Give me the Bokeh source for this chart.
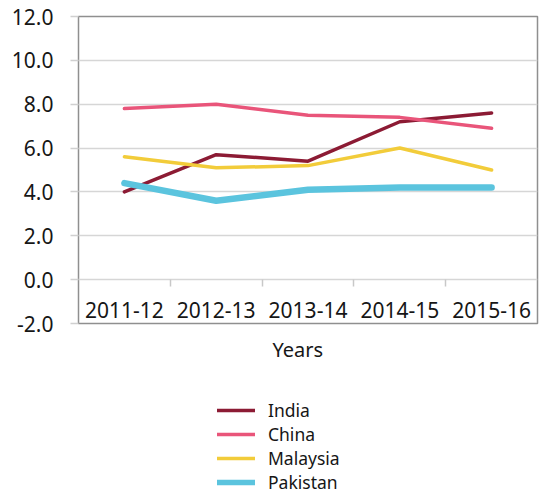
from bokeh.plotting import figure
from bokeh.layouts import column
from bokeh.models import (Range1d, LinearAxis, FixedTicker, PrintfTickFormatter,
                          Legend, LegendItem, Title, Grid)
from bokeh.embed import file_html
from bokeh.resources import INLINE

# ---- data ----
years = ["2011-12", "2012-13", "2013-14", "2014-15", "2015-16"]
india = [4.0, 5.7, 5.4, 7.2, 7.6]
china = [7.8, 8.0, 7.5, 7.4, 6.9]
malaysia = [5.6, 5.1, 5.2, 6.0, 5.0]
pakistan = [4.4, 3.6, 4.1, 4.2, 4.2]
y_ticks = [-2, 0, 2, 4, 6, 8, 10, 12]
series_names = ["India", "China", "Malaysia", "Pakistan"]

FONT = "Noto Sans"
TXT = "#161616"
x = list(range(len(years)))
colors = ["#8c1b34", "#e9557a", "#f2cc3a", "#5bc4de"]
widths = [3.5, 3.5, 3.5, 6.5]
values = [india, china, malaysia, pakistan]

# ---------------- main chart ----------------
p = figure(width=540, height=398, output_backend="svg", toolbar_location=None,
           x_range=Range1d(-0.5, len(years) - 0.5), y_range=Range1d(-2, 12),
           x_axis_location=None, y_axis_location=None,
           min_border_left=78, min_border_right=3, min_border_top=16,
           min_border_bottom=75)
p.background_fill_color = "white"
p.border_fill_color = "white"
p.outline_line_color = "#8f8f8f"
p.outline_line_width = 1.5
for g in p.grid:
    g.visible = False

p.add_layout(Grid(dimension=1, ticker=FixedTicker(ticks=y_ticks),
                  grid_line_color="#d6d6d6", grid_line_width=1.5))

yaxis = LinearAxis(ticker=FixedTicker(ticks=y_ticks),
                   formatter=PrintfTickFormatter(format="%.1f"),
                   axis_line_color=None, major_tick_out=8, major_tick_in=0,
                   major_tick_line_color="#d0d0d0", major_tick_line_width=1.5,
                   minor_tick_line_color=None, major_label_standoff=17,
                   major_label_text_font=FONT, major_label_text_font_size="21px",
                   major_label_text_color=TXT)
p.add_layout(yaxis, "left")

# category boundary ticks at y = 0
xtick_axis = LinearAxis(fixed_location=0,
                        ticker=FixedTicker(ticks=[i + 0.5 for i in range(len(years) - 1)]),
                        axis_line_color=None, major_tick_out=7, major_tick_in=0,
                        major_tick_line_color="#c8c8c8", major_tick_line_width=1.5,
                        minor_tick_line_color=None, major_label_text_alpha=0)
p.add_layout(xtick_axis, "below")

# category labels
xlab_axis = LinearAxis(fixed_location=0, ticker=FixedTicker(ticks=x),
                       major_label_overrides={i: yr for i, yr in enumerate(years)},
                       axis_line_color=None, major_tick_line_color=None,
                       minor_tick_line_color=None, major_tick_out=0, major_tick_in=0,
                       major_label_standoff=22, major_label_text_font=FONT,
                       major_label_text_font_size="21px", major_label_text_color=TXT)
p.add_layout(xlab_axis, "below")

for name, vals, c, w in zip(series_names, values, colors, widths):
    p.line(x, vals, line_color=c, line_width=w, line_cap="round", line_join="round")

title = Title(text="Years", align="left", offset=194, text_font=FONT,
              text_font_size="20px", text_font_style="normal", text_color=TXT,
              standoff=20)
p.add_layout(title, "below")

# ---------------- legend strip ----------------
lg = figure(width=540, height=96, output_backend="svg", toolbar_location=None,
            x_range=Range1d(0, 1), y_range=Range1d(0, 1),
            x_axis_location=None, y_axis_location=None,
            min_border_left=0, min_border_right=0, min_border_top=0,
            min_border_bottom=0)
lg.outline_line_color = None
lg.background_fill_color = "white"
lg.border_fill_color = "white"
for g in lg.grid:
    g.visible = False

items = []
for name, vals, c, w in zip(series_names, values, colors, widths):
    # series lie outside this strip's ranges: only their legend swatches show
    r = lg.line(x, vals, line_color=c, line_width=min(w, 5.5), line_cap="round")
    items.append(LegendItem(label=name, renderers=[r]))

legend = Legend(items=items, location=(139, 0), orientation="vertical",
                glyph_width=38, glyph_height=24, label_height=24, spacing=0,
                label_standoff=13, padding=0, margin=0, border_line_color=None,
                background_fill_alpha=0, label_text_font=FONT,
                label_text_font_size="17.5px", label_text_color=TXT)
lg.add_layout(legend, "center")

layout = column(p, lg, spacing=0)
open("out.html", "w").write(file_html(layout, INLINE))
